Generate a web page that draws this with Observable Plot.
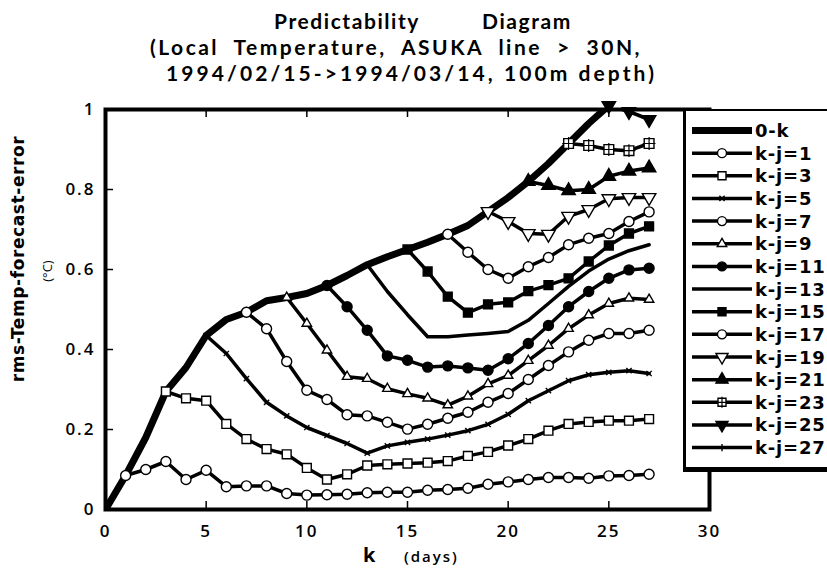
<!DOCTYPE html>
<html><head><meta charset="utf-8">
<script src="https://cdn.jsdelivr.net/npm/d3@7"></script>
<script src="https://cdn.jsdelivr.net/npm/@observablehq/plot@0.6"></script>
<style>
body{margin:0;background:#fff;}
#wrap{position:relative;width:827px;height:576px;overflow:hidden;font-family:"Open Sans",sans-serif;color:#000;}
.tl{position:absolute;white-space:pre;font-family:Lato,sans-serif;font-weight:700;font-size:21px;line-height:21px;}
#legend{position:absolute;left:683px;top:109px;width:170px;height:356px;background:#fff;border-top:2px solid #000;border-left:3px solid #000;border-bottom:5px solid #000;}
.ylab{position:absolute;white-space:pre;transform-origin:center center;}
</style></head><body>
<div id="wrap">
  <div class="tl fit" data-w="146" style="left:274px;top:10px;">Predictability</div>
  <div class="tl fit" data-w="90" style="left:482px;top:10px;">Diagram</div>
  <div class="tl fit" data-w="492" data-ws="1" style="left:150px;top:36px;">(Local Temperature, ASUKA line &gt; 30N,</div>
  <div class="tl fit" data-w="491" style="left:166px;top:62px;">1994/02/15-&gt;1994/03/14, 100m depth)</div>
  <div class="ylab" style="left:-122px;top:249px;width:280px;text-align:center;transform:rotate(-90deg);font-family:'DejaVu Sans';font-weight:bold;font-size:17px;letter-spacing:0.6px">rms-Temp-forecast-error</div>
  <div class="ylab" style="left:22px;top:262px;width:50px;text-align:center;transform:rotate(-90deg);font-size:13px;">(°C)</div>
  <div style="position:absolute;left:363px;top:541px;font-weight:700;font-size:20px;">k</div>
  <div style="position:absolute;left:404px;top:546px;font-weight:600;font-size:15px;letter-spacing:2px">(days)</div>
  <div id="legend"></div>
</div>
<script>
// ---- data ----
const days = [0,1,2,3,4,5,6,7,8,9,10,11,12,13,14,15,16,17,18,19,20,21,22,23,24,25,26,27];
const xTicks = [0,5,10,15,20,25,30];
const yTicks = [0,0.2,0.4,0.6,0.8,1];
const seriesNames = ["0-k","k-j=1","k-j=3","k-j=5","k-j=7","k-j=9","k-j=11","k-j=13","k-j=15","k-j=17","k-j=19","k-j=21","k-j=23","k-j=25","k-j=27"];
const seriesStart = [0,1,3,5,7,9,11,13,15,17,19,21,23,25,27];
const zeroK = [0,0.085,0.18,0.295,0.355,0.435,0.475,0.493,0.522,0.53,0.54,0.56,0.585,0.612,0.632,0.65,0.668,0.688,0.71,0.745,0.78,0.82,0.865,0.915,0.965,1.01];
const kj1 = [0.085,0.10,0.12,0.075,0.098,0.057,0.059,0.059,0.04,0.036,0.037,0.038,0.042,0.043,0.043,0.048,0.05,0.053,0.063,0.069,0.075,0.08,0.08,0.078,0.084,0.085,0.088];
const kj3 = [0.295,0.278,0.272,0.214,0.176,0.151,0.138,0.104,0.075,0.088,0.11,0.113,0.115,0.117,0.121,0.134,0.144,0.16,0.176,0.197,0.214,0.219,0.222,0.222,0.226];
const kj5 = [0.435,0.39,0.327,0.268,0.234,0.205,0.185,0.165,0.141,0.159,0.168,0.176,0.186,0.197,0.213,0.238,0.272,0.297,0.322,0.337,0.343,0.347,0.34];
const kj7 = [0.493,0.452,0.37,0.298,0.275,0.237,0.234,0.218,0.201,0.213,0.228,0.243,0.268,0.29,0.325,0.36,0.394,0.423,0.44,0.44,0.448];
const kj9 = [0.53,0.465,0.398,0.332,0.327,0.302,0.289,0.278,0.261,0.283,0.314,0.335,0.372,0.41,0.452,0.486,0.515,0.528,0.525];
const kj11 = [0.56,0.507,0.448,0.384,0.373,0.356,0.359,0.354,0.348,0.377,0.415,0.46,0.507,0.545,0.578,0.599,0.603];
const kj13 = [0.612,0.545,0.487,0.432,0.432,0.436,0.44,0.445,0.473,0.515,0.558,0.596,0.626,0.647,0.662];
const kj15 = [0.65,0.595,0.532,0.492,0.513,0.518,0.546,0.561,0.578,0.62,0.66,0.69,0.708];
const kj17 = [0.688,0.643,0.6,0.578,0.607,0.63,0.662,0.678,0.69,0.72,0.744];
const kj19 = [0.745,0.72,0.69,0.688,0.733,0.75,0.777,0.78,0.78];
const kj21 = [0.82,0.81,0.797,0.8,0.833,0.846,0.854];
const kj23 = [0.915,0.91,0.9,0.897,0.915];
const kj25 = [1.01,0.995,0.975];
const kj27 = [];
const seriesValues = [zeroK,kj1,kj3,kj5,kj7,kj9,kj11,kj13,kj15,kj17,kj19,kj21,kj23,kj25,kj27];

// ---- styles ----
const styles = {
  "0-k":   {sw:7, sym:null},
  "k-j=1": {sw:3.5, sym:"circle", fill:"white", r:5},
  "k-j=3": {sw:3.5, sym:"square", fill:"white", r:5},
  "k-j=5": {sw:3.5, sym:"times", fill:"none", r:2.5},
  "k-j=7": {sw:3.5, sym:"circle", fill:"white", r:5},
  "k-j=9": {sw:3.5, sym:"triangle", fill:"white", r:3.5},
  "k-j=11":{sw:3.5, sym:"circle", fill:"black", r:5},
  "k-j=13":{sw:3.5, sym:null},
  "k-j=15":{sw:3.5, sym:"square", fill:"black", r:5},
  "k-j=17":{sw:3.5, sym:"circle", fill:"white", r:5},
  "k-j=19":{sw:3.5, sym:"triangle", fill:"white", r:5, rotate:180},
  "k-j=21":{sw:3.5, sym:"triangle", fill:"black", r:5},
  "k-j=23":{sw:3.5, sym:"square", fill:"white", r:5.5, plus:true},
  "k-j=25":{sw:3.5, sym:"triangle", fill:"black", r:5, rotate:180},
  "k-j=27":{sw:3.5, sym:"plus", fill:"none", r:2.5}
};

const series = seriesNames.map((name, si) => ({
  name,
  data: seriesValues[si].map((v, i) => ({k: days[seriesStart[si] + i], v}))
}));

const W = 827, H = 576, mL = 105, mR = 118, mT = 109, mB = 67;
const fw = W - mL - mR, fh = H - mT - mB;

const marks = [];
marks.push(Plot.tickX(xTicks, {x: d => d, insetTop: fh - 8, stroke: "black", strokeWidth: 1.5}));
marks.push(Plot.tickX(xTicks, {x: d => d, insetBottom: fh - 8, stroke: "black", strokeWidth: 1.5}));
marks.push(Plot.tickY(yTicks, {y: d => d, insetRight: fw - 8, stroke: "black", strokeWidth: 1.5}));
marks.push(Plot.axisX(xTicks, {tickSize: 0, tickPadding: 15, fontSize: 17, label: null, tickFormat: d => String(d)}));
marks.push(Plot.axisY(yTicks, {tickSize: 0, tickPadding: 10, fontSize: 17, label: null, tickFormat: d => String(d)}));
for (const s of series) {
  const st = styles[s.name];
  marks.push(Plot.line(s.data, {x: "k", y: "v", stroke: "black", strokeWidth: st.sw, strokeLinejoin: "round", clip: true}));
  if (st.sym) {
    marks.push(Plot.dot(s.data, {x: "k", y: "v", symbol: st.sym, r: st.r, fill: st.fill, stroke: "black", strokeWidth: 1.4, rotate: st.rotate || 0}));
    if (st.plus) marks.push(Plot.dot(s.data, {x: "k", y: "v", symbol: "plus", r: 4.2, stroke: "black", strokeWidth: 1.2}));
  }
}
marks.push(Plot.frame({stroke: "black", strokeWidth: 4}));

const chart = Plot.plot({
  width: W, height: H,
  marginLeft: mL, marginRight: mR, marginTop: mT, marginBottom: mB,
  x: {domain: [0, 30]},
  y: {domain: [0, 1]},
  style: {fontFamily: "Open Sans", fontWeight: 600, letterSpacing: "2px", background: "transparent", overflow: "visible"},
  marks
});
chart.style.position = "absolute";
chart.style.left = "0px";
chart.style.top = "0px";
const wrap = document.getElementById("wrap");
wrap.insertBefore(chart, wrap.firstChild);

// fit title lines to their measured widths in the reference
document.querySelectorAll(".fit").forEach(el => {
  const target = +el.dataset.w;
  const txt = el.textContent;
  const nat = el.getBoundingClientRect().width;
  const spaces = (txt.match(/ /g) || []).length;
  const wsMul = el.dataset.ws ? 3 : 0;
  const ls = (target - nat) / (txt.length + spaces * wsMul);
  el.style.letterSpacing = ls + "px";
  if (wsMul) el.style.wordSpacing = (ls * wsMul) + "px";
});

// ---- legend ----
const symMap = {circle: d3.symbolCircle, square: d3.symbolSquare, triangle: d3.symbolTriangle, times: d3.symbolTimes, plus: d3.symbolPlus};
const lg = d3.select("#legend").append("svg").attr("width", 170).attr("height", 356)
  .style("position", "absolute").style("left", "0px").style("top", "0px");
const ox = 686, oy = 111;
seriesNames.forEach((name, i) => {
  const st = styles[name];
  const cy = 130.5 + 22.65 * i - oy;
  lg.append("line").attr("x1", 692 - ox).attr("x2", 752 - ox).attr("y1", cy).attr("y2", cy)
    .attr("stroke", "black").attr("stroke-width", st.sw);
  if (st.sym) {
    const rr = Math.min(st.r, 4.5);
    lg.append("path").attr("d", d3.symbol(symMap[st.sym], Math.PI * rr * rr)())
      .attr("transform", `translate(${722 - ox},${cy}) rotate(${st.rotate || 0})`)
      .attr("fill", st.fill).attr("stroke", "black").attr("stroke-width", 1.4);
    if (st.plus) lg.append("path").attr("d", d3.symbol(d3.symbolPlus, Math.PI * 3.6 * 3.6)())
      .attr("transform", `translate(${722 - ox},${cy})`).attr("fill", "none").attr("stroke", "black").attr("stroke-width", 1.2);
  }
  lg.append("text").attr("x", 755 - ox).attr("y", cy + 6.5).text(name)
    .attr("font-family", "DejaVu Sans").attr("font-weight", "bold").attr("font-size", 18).attr("letter-spacing", "0.8px");
});
</script>
</body></html>
